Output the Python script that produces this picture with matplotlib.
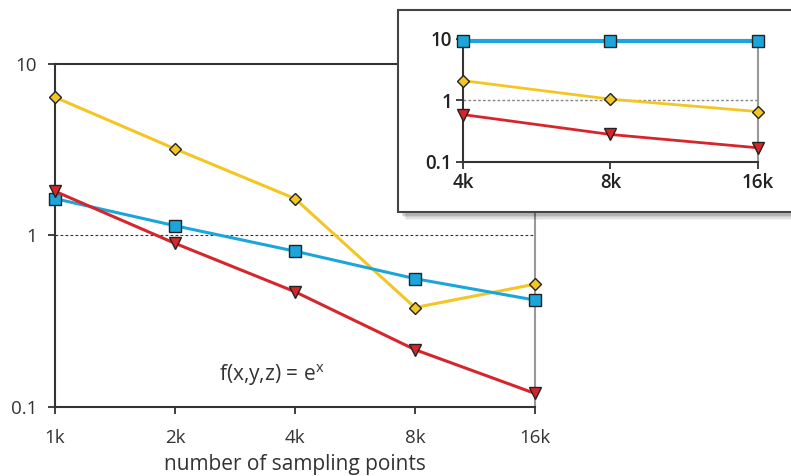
import numpy as np
import matplotlib.pyplot as plt
from matplotlib.patches import Rectangle

plt.rcParams['font.family'] = ['Open Sans', 'DejaVu Sans']

# main panel data
x_main = [1000, 2000, 4000, 8000, 16000]
x_main_labels = ['1k', '2k', '4k', '8k', '16k']
yellow_main = [6.4, 3.2, 1.64, 0.38, 0.52]
blue_main = [1.64, 1.14, 0.81, 0.56, 0.42]
red_main = [1.81, 0.90, 0.47, 0.216, 0.12]

# inset data
x_inset = [4000, 8000, 16000]
x_inset_labels = ['4k', '8k', '16k']
blue_inset = [9.3, 9.3, 9.3]
yellow_inset = [2.1, 1.05, 0.66]
red_inset = [0.59, 0.28, 0.17]

yticks = [0.1, 1, 10]
ytick_labels = ['0.1', '1', '10']

c_yellow = '#F4C623'
c_blue = '#1AA6DA'
c_red = '#D7262B'


def draw(ax, x, yel, blu, red, lw, ms_scale=1.0):
    ax.plot(x, yel, color=c_yellow, lw=lw, marker='D', ms=6*ms_scale,
            mfc=c_yellow, mec='#222222', mew=1.0, zorder=3)
    ax.plot(x, blu, color=c_blue, lw=lw, marker='s', ms=8*ms_scale,
            mfc=c_blue, mec='#222222', mew=1.0, zorder=3)
    ax.plot(x, red, color=c_red, lw=lw, marker='v', ms=8*ms_scale,
            mfc=c_red, mec='#222222', mew=1.0, zorder=3)


fig = plt.figure(figsize=(7.91, 4.76), dpi=100)

ax = fig.add_axes([0.0695, 0.145, 0.6068, 0.7206])
ax.set_xscale('log')
ax.set_yscale('log')
ax.set_xlim(1000, 16000)
ax.set_ylim(0.1, 10)
ax.axhline(1, color='#333333', lw=0.8, ls=(0, (2.5, 2)), zorder=1)
draw(ax, x_main, yellow_main, blue_main, red_main, lw=2.2)
ax.set_xticks(x_main)
ax.set_xticklabels(x_main_labels)
ax.set_yticks(yticks)
ax.set_yticklabels(ytick_labels)
ax.minorticks_off()
ax.tick_params(direction='out', length=5, width=1.3, color='#333333',
               labelsize=13.5, labelcolor='#333333', pad=8)
ax.tick_params(axis='x', pad=11)
for s in ['left', 'bottom', 'top']:
    ax.spines[s].set_linewidth(1.5)
    ax.spines[s].set_color('#333333')
ax.spines['right'].set_color('#999999')
ax.spines['right'].set_linewidth(1.5)
ax.set_xlabel('number of sampling points', fontsize=15, color='#333333',
              labelpad=5)
ax.text(3500, 0.153, r'f(x,y,z) = e$^\mathregular{x}$', fontsize=15,
        color='#333333', ha='center', va='center')

# inset frame with shadow
for i, a in enumerate([0.05, 0.07, 0.09, 0.12]):
    off = (4 - i) * 1.6
    fig.patches.append(Rectangle((400 + off, 476 - 214 - off), 396, 203,
                                 transform=None, facecolor='#000000',
                                 alpha=a, edgecolor='none', zorder=5))
fig.patches.append(Rectangle((398, 476 - 212), 400, 202, transform=None,
                             facecolor='white', edgecolor='#444444',
                             lw=1.5, zorder=6))

ins = fig.add_axes([0.5853, 0.6597, 0.373, 0.2584], zorder=10)
ins.set_facecolor('none')
ins.set_xscale('log')
ins.set_yscale('log')
ins.set_xlim(4000, 16000)
ins.set_ylim(0.1, 10)
ins.axhline(1, color='#888888', lw=1.0, ls=(0, (2, 1.5)), zorder=1)
draw(ins, x_inset, yellow_inset, blue_inset, red_inset, lw=2.0, ms_scale=1.1)
ins.lines[2].set_linewidth(3.0)
ins.set_xticks(x_inset)
ins.set_xticklabels(x_inset_labels)
ins.set_yticks(yticks)
ins.set_yticklabels(ytick_labels)
ins.minorticks_off()
ins.tick_params(direction='out', length=5, width=1.3, color='#333333',
                labelsize=13.5, labelcolor='#222222', pad=3)
for lab in ins.get_xticklabels() + ins.get_yticklabels():
    lab.set_fontweight('semibold')
ins.spines['top'].set_visible(False)
for s in ['left', 'bottom']:
    ins.spines[s].set_linewidth(1.5)
    ins.spines[s].set_color('#333333')
ins.spines['right'].set_color('#999999')
ins.spines['right'].set_linewidth(1.5)
for line in ins.lines + ax.lines:
    line.set_clip_on(False)

fig.savefig('out.png', dpi=100)
